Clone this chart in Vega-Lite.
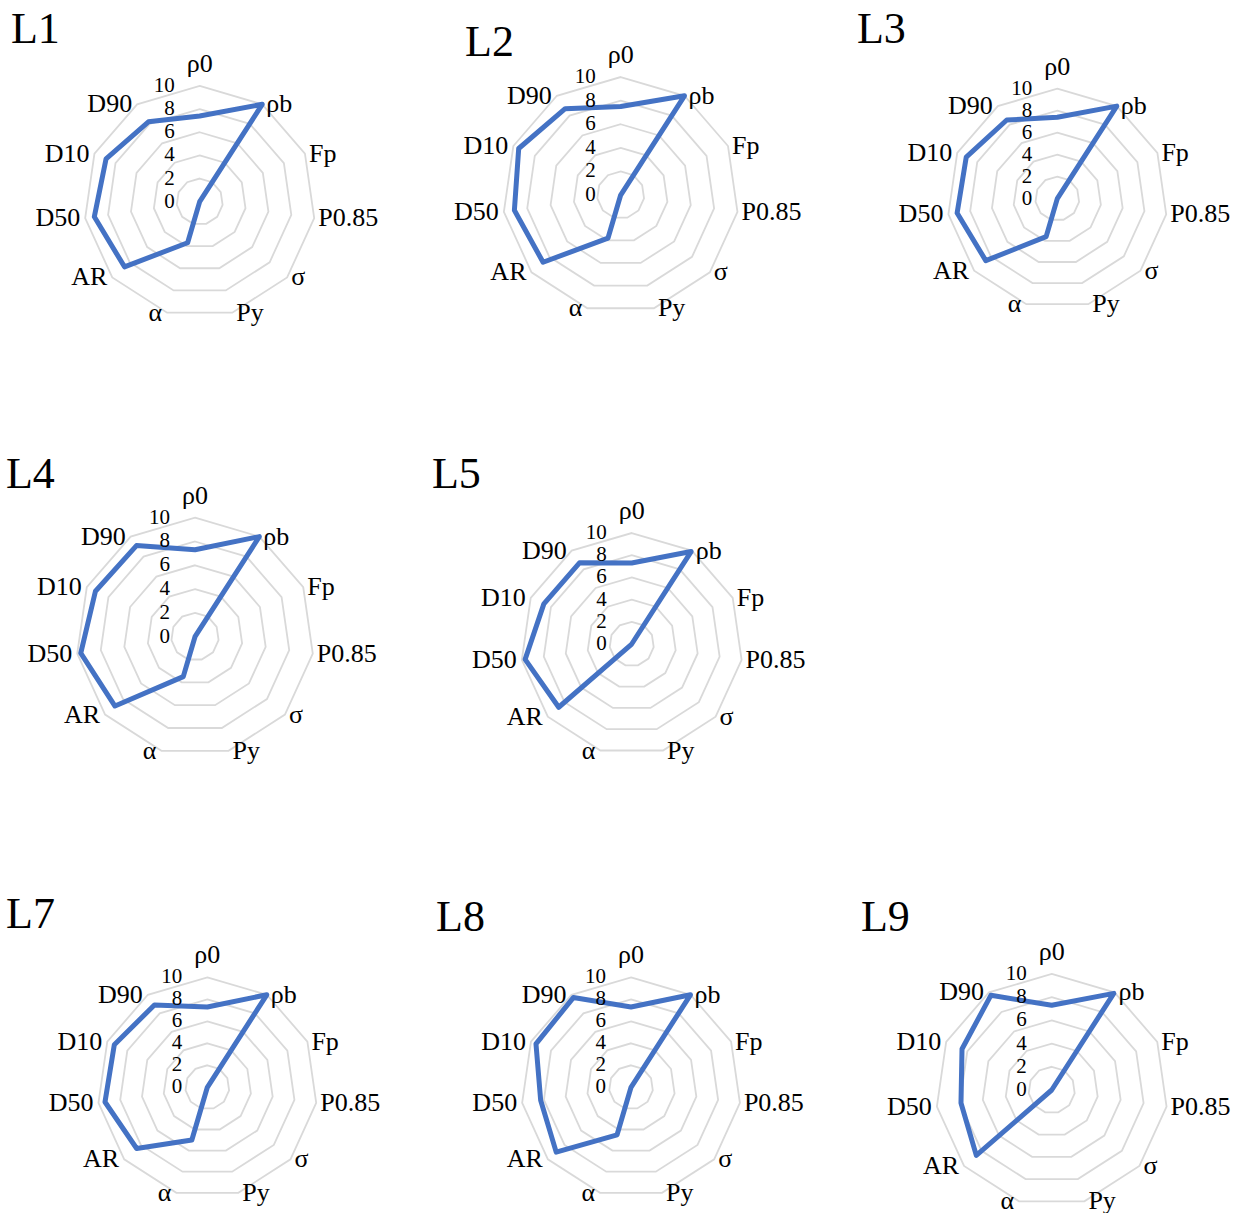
{
  "$schema": "https://vega.github.io/schema/vega-lite/v6.json",
  "padding": 0,
  "config": {
    "view": {"stroke": null},
    "font": "Liberation Serif",
    "text": {"font": "Liberation Serif", "color": "#000000"}
  },
  "datasets": {
    "vals": [
      {"panel": "L1", "axis": "ρ0", "k": 0, "value": 7.4}, {"panel": "L1", "axis": "ρb", "k": 1, "value": 10}, {"panel": "L1", "axis": "Fp", "k": 2, "value": 0}, {"panel": "L1", "axis": "P0.85", "k": 3, "value": 0}, {"panel": "L1", "axis": "σ", "k": 4, "value": 0}, {"panel": "L1", "axis": "Py", "k": 5, "value": 0}, {"panel": "L1", "axis": "α", "k": 6, "value": 3.7}, {"panel": "L1", "axis": "AR", "k": 7, "value": 8.6}, {"panel": "L1", "axis": "D50", "k": 8, "value": 9.2}, {"panel": "L1", "axis": "D10", "k": 9, "value": 8.9}, {"panel": "L1", "axis": "D90", "k": 10, "value": 8.2},
      {"panel": "L2", "axis": "ρ0", "k": 0, "value": 7.5}, {"panel": "L2", "axis": "ρb", "k": 1, "value": 10}, {"panel": "L2", "axis": "Fp", "k": 2, "value": 0}, {"panel": "L2", "axis": "P0.85", "k": 3, "value": 0}, {"panel": "L2", "axis": "σ", "k": 4, "value": 0}, {"panel": "L2", "axis": "Py", "k": 5, "value": 0}, {"panel": "L2", "axis": "α", "k": 6, "value": 3.8}, {"panel": "L2", "axis": "AR", "k": 7, "value": 8.7}, {"panel": "L2", "axis": "D50", "k": 8, "value": 9.1}, {"panel": "L2", "axis": "D10", "k": 9, "value": 9.5}, {"panel": "L2", "axis": "D90", "k": 10, "value": 8.7},
      {"panel": "L3", "axis": "ρ0", "k": 0, "value": 7.4}, {"panel": "L3", "axis": "ρb", "k": 1, "value": 10}, {"panel": "L3", "axis": "Fp", "k": 2, "value": 0}, {"panel": "L3", "axis": "P0.85", "k": 3, "value": 0}, {"panel": "L3", "axis": "σ", "k": 4, "value": 0}, {"panel": "L3", "axis": "Py", "k": 5, "value": 0}, {"panel": "L3", "axis": "α", "k": 6, "value": 3.6}, {"panel": "L3", "axis": "AR", "k": 7, "value": 8.6}, {"panel": "L3", "axis": "D50", "k": 8, "value": 9.2}, {"panel": "L3", "axis": "D10", "k": 9, "value": 9.1}, {"panel": "L3", "axis": "D90", "k": 10, "value": 8.5},
      {"panel": "L4", "axis": "ρ0", "k": 0, "value": 7.3}, {"panel": "L4", "axis": "ρb", "k": 1, "value": 10}, {"panel": "L4", "axis": "Fp", "k": 2, "value": 0}, {"panel": "L4", "axis": "P0.85", "k": 3, "value": 0}, {"panel": "L4", "axis": "σ", "k": 4, "value": 0}, {"panel": "L4", "axis": "Py", "k": 5, "value": 0}, {"panel": "L4", "axis": "α", "k": 6, "value": 3.5}, {"panel": "L4", "axis": "AR", "k": 7, "value": 8.9}, {"panel": "L4", "axis": "D50", "k": 8, "value": 9.7}, {"panel": "L4", "axis": "D10", "k": 9, "value": 9.2}, {"panel": "L4", "axis": "D90", "k": 10, "value": 9.1},
      {"panel": "L5", "axis": "ρ0", "k": 0, "value": 7.3}, {"panel": "L5", "axis": "ρb", "k": 1, "value": 9.9}, {"panel": "L5", "axis": "Fp", "k": 2, "value": 0}, {"panel": "L5", "axis": "P0.85", "k": 3, "value": 0}, {"panel": "L5", "axis": "σ", "k": 4, "value": 0}, {"panel": "L5", "axis": "Py", "k": 5, "value": 0}, {"panel": "L5", "axis": "α", "k": 6, "value": 0}, {"panel": "L5", "axis": "AR", "k": 7, "value": 8.7}, {"panel": "L5", "axis": "D50", "k": 8, "value": 9.7}, {"panel": "L5", "axis": "D10", "k": 9, "value": 8.7}, {"panel": "L5", "axis": "D90", "k": 10, "value": 8.7},
      {"panel": "L7", "axis": "ρ0", "k": 0, "value": 7.3}, {"panel": "L7", "axis": "ρb", "k": 1, "value": 10}, {"panel": "L7", "axis": "Fp", "k": 2, "value": 0}, {"panel": "L7", "axis": "P0.85", "k": 3, "value": 0}, {"panel": "L7", "axis": "σ", "k": 4, "value": 0}, {"panel": "L7", "axis": "Py", "k": 5, "value": 0}, {"panel": "L7", "axis": "α", "k": 6, "value": 5.0}, {"panel": "L7", "axis": "AR", "k": 7, "value": 8.5}, {"panel": "L7", "axis": "D50", "k": 8, "value": 9.4}, {"panel": "L7", "axis": "D10", "k": 9, "value": 9.3}, {"panel": "L7", "axis": "D90", "k": 10, "value": 8.9},
      {"panel": "L8", "axis": "ρ0", "k": 0, "value": 7.3}, {"panel": "L8", "axis": "ρb", "k": 1, "value": 10}, {"panel": "L8", "axis": "Fp", "k": 2, "value": 0}, {"panel": "L8", "axis": "P0.85", "k": 3, "value": 0}, {"panel": "L8", "axis": "σ", "k": 4, "value": 0}, {"panel": "L8", "axis": "Py", "k": 5, "value": 0}, {"panel": "L8", "axis": "α", "k": 6, "value": 4.5}, {"panel": "L8", "axis": "AR", "k": 7, "value": 9.0}, {"panel": "L8", "axis": "D50", "k": 8, "value": 8.3}, {"panel": "L8", "axis": "D10", "k": 9, "value": 9.5}, {"panel": "L8", "axis": "D90", "k": 10, "value": 9.7},
      {"panel": "L9", "axis": "ρ0", "k": 0, "value": 7.3}, {"panel": "L9", "axis": "ρb", "k": 1, "value": 9.9}, {"panel": "L9", "axis": "Fp", "k": 2, "value": 0}, {"panel": "L9", "axis": "P0.85", "k": 3, "value": 0}, {"panel": "L9", "axis": "σ", "k": 4, "value": 0}, {"panel": "L9", "axis": "Py", "k": 5, "value": 0}, {"panel": "L9", "axis": "α", "k": 6, "value": 0}, {"panel": "L9", "axis": "AR", "k": 7, "value": 8.6}, {"panel": "L9", "axis": "D50", "k": 8, "value": 7.9}, {"panel": "L9", "axis": "D10", "k": 9, "value": 8.5}, {"panel": "L9", "axis": "D90", "k": 10, "value": 9.7}
    ],
    "axes": [
      {"axis": "ρ0", "k": 0}, {"axis": "ρb", "k": 1}, {"axis": "Fp", "k": 2}, {"axis": "P0.85", "k": 3}, {"axis": "σ", "k": 4}, {"axis": "Py", "k": 5}, {"axis": "α", "k": 6}, {"axis": "AR", "k": 7}, {"axis": "D50", "k": 8}, {"axis": "D10", "k": 9}, {"axis": "D90", "k": 10}
    ],
    "rings": [
      {"level": 2, "k": [0, 1, 2, 3, 4, 5, 6, 7, 8, 9, 10]},
      {"level": 4, "k": [0, 1, 2, 3, 4, 5, 6, 7, 8, 9, 10]},
      {"level": 6, "k": [0, 1, 2, 3, 4, 5, 6, 7, 8, 9, 10]},
      {"level": 8, "k": [0, 1, 2, 3, 4, 5, 6, 7, 8, 9, 10]},
      {"level": 10, "k": [0, 1, 2, 3, 4, 5, 6, 7, 8, 9, 10]}
    ],
    "ticks": [{"level": 0}, {"level": 2}, {"level": 4}, {"level": 6}, {"level": 8}, {"level": 10}]
  },
  "columns": 3,
  "spacing": 0,
  "bounds": "flush",
  "concat": [
    {
      "width": 415, "height": 440,
      "layer": [
        {"data": {"name": "rings"}, "transform": [{"flatten": ["k"]}, {"calculate": "datum.level*sin(datum.k*2*PI/11)", "as": "x"}, {"calculate": "datum.level*cos(datum.k*2*PI/11)", "as": "y"}], "mark": {"type": "line", "interpolate": "linear-closed", "color": "#d9d9d9", "strokeWidth": 1.8}, "encoding": {"x": {"field": "x", "type": "quantitative", "axis": null, "scale": {"domain": [-17.26, 18.61], "nice": false, "zero": false}}, "y": {"field": "y", "type": "quantitative", "axis": null, "scale": {"domain": [-20.6, 17.43], "nice": false, "zero": false}}, "detail": {"field": "level", "type": "nominal"}, "order": {"field": "k", "type": "quantitative"}}},
        {"data": {"name": "vals"}, "transform": [{"filter": "datum.panel === 'L1'"}, {"calculate": "datum.value*sin(datum.k*2*PI/11)", "as": "x"}, {"calculate": "datum.value*cos(datum.k*2*PI/11)", "as": "y"}], "mark": {"type": "line", "interpolate": "linear-closed", "color": "#4472C4", "strokeWidth": 5, "strokeJoin": "round"}, "encoding": {"x": {"field": "x", "type": "quantitative", "axis": null}, "y": {"field": "y", "type": "quantitative", "axis": null}, "order": {"field": "k", "type": "quantitative"}}},
        {"data": {"name": "ticks"}, "mark": {"type": "text", "align": "right", "baseline": "middle", "dx": -25, "fontSize": 21}, "encoding": {"x": {"datum": 0, "type": "quantitative", "axis": null}, "y": {"field": "level", "type": "quantitative", "axis": null}, "text": {"field": "level", "type": "quantitative"}}},
        {"data": {"name": "axes"}, "transform": [{"filter": "datum.k === 0"}, {"calculate": "10*sin(datum.k*2*PI/11)", "as": "x"}, {"calculate": "10*cos(datum.k*2*PI/11)", "as": "y"}], "mark": {"type": "text", "align": "center", "baseline": "alphabetic", "dy": -14, "fontSize": 26}, "encoding": {"x": {"field": "x", "type": "quantitative", "axis": null}, "y": {"field": "y", "type": "quantitative", "axis": null}, "text": {"field": "axis"}}},
        {"data": {"name": "axes"}, "transform": [{"filter": "datum.k >= 1 && datum.k <= 5"}, {"calculate": "10*sin(datum.k*2*PI/11)", "as": "x"}, {"calculate": "10*cos(datum.k*2*PI/11)", "as": "y"}], "mark": {"type": "text", "align": "left", "baseline": "middle", "dx": 4, "fontSize": 26}, "encoding": {"x": {"field": "x", "type": "quantitative", "axis": null}, "y": {"field": "y", "type": "quantitative", "axis": null}, "text": {"field": "axis"}}},
        {"data": {"name": "axes"}, "transform": [{"filter": "datum.k >= 6"}, {"calculate": "10*sin(datum.k*2*PI/11)", "as": "x"}, {"calculate": "10*cos(datum.k*2*PI/11)", "as": "y"}], "mark": {"type": "text", "align": "right", "baseline": "middle", "dx": -5, "fontSize": 26}, "encoding": {"x": {"field": "x", "type": "quantitative", "axis": null}, "y": {"field": "y", "type": "quantitative", "axis": null}, "text": {"field": "axis"}}},
        {"data": {"name": "vals"}, "transform": [{"filter": "datum.panel === 'L1' && datum.k === 0"}], "mark": {"type": "text", "align": "left", "baseline": "alphabetic", "fontSize": 44}, "encoding": {"x": {"datum": -16.31, "type": "quantitative", "axis": null}, "y": {"datum": 13.71, "type": "quantitative", "axis": null}, "text": {"field": "panel"}}}
      ]
    },
    {
      "width": 415, "height": 440,
      "layer": [
        {"data": {"name": "rings"}, "transform": [{"flatten": ["k"]}, {"calculate": "datum.level*sin(datum.k*2*PI/11)", "as": "x"}, {"calculate": "datum.level*cos(datum.k*2*PI/11)", "as": "y"}], "mark": {"type": "line", "interpolate": "linear-closed", "color": "#d9d9d9", "strokeWidth": 1.8}, "encoding": {"x": {"field": "x", "type": "quantitative", "axis": null, "scale": {"domain": [-17.43, 17.74], "nice": false, "zero": false}}, "y": {"field": "y", "type": "quantitative", "axis": null, "scale": {"domain": [-20.76, 16.53], "nice": false, "zero": false}}, "detail": {"field": "level", "type": "nominal"}, "order": {"field": "k", "type": "quantitative"}}},
        {"data": {"name": "vals"}, "transform": [{"filter": "datum.panel === 'L2'"}, {"calculate": "datum.value*sin(datum.k*2*PI/11)", "as": "x"}, {"calculate": "datum.value*cos(datum.k*2*PI/11)", "as": "y"}], "mark": {"type": "line", "interpolate": "linear-closed", "color": "#4472C4", "strokeWidth": 5, "strokeJoin": "round"}, "encoding": {"x": {"field": "x", "type": "quantitative", "axis": null}, "y": {"field": "y", "type": "quantitative", "axis": null}, "order": {"field": "k", "type": "quantitative"}}},
        {"data": {"name": "ticks"}, "mark": {"type": "text", "align": "right", "baseline": "middle", "dx": -25, "fontSize": 21}, "encoding": {"x": {"datum": 0, "type": "quantitative", "axis": null}, "y": {"field": "level", "type": "quantitative", "axis": null}, "text": {"field": "level", "type": "quantitative"}}},
        {"data": {"name": "axes"}, "transform": [{"filter": "datum.k === 0"}, {"calculate": "10*sin(datum.k*2*PI/11)", "as": "x"}, {"calculate": "10*cos(datum.k*2*PI/11)", "as": "y"}], "mark": {"type": "text", "align": "center", "baseline": "alphabetic", "dy": -14, "fontSize": 26}, "encoding": {"x": {"field": "x", "type": "quantitative", "axis": null}, "y": {"field": "y", "type": "quantitative", "axis": null}, "text": {"field": "axis"}}},
        {"data": {"name": "axes"}, "transform": [{"filter": "datum.k >= 1 && datum.k <= 5"}, {"calculate": "10*sin(datum.k*2*PI/11)", "as": "x"}, {"calculate": "10*cos(datum.k*2*PI/11)", "as": "y"}], "mark": {"type": "text", "align": "left", "baseline": "middle", "dx": 4, "fontSize": 26}, "encoding": {"x": {"field": "x", "type": "quantitative", "axis": null}, "y": {"field": "y", "type": "quantitative", "axis": null}, "text": {"field": "axis"}}},
        {"data": {"name": "axes"}, "transform": [{"filter": "datum.k >= 6"}, {"calculate": "10*sin(datum.k*2*PI/11)", "as": "x"}, {"calculate": "10*cos(datum.k*2*PI/11)", "as": "y"}], "mark": {"type": "text", "align": "right", "baseline": "middle", "dx": -5, "fontSize": 26}, "encoding": {"x": {"field": "x", "type": "quantitative", "axis": null}, "y": {"field": "y", "type": "quantitative", "axis": null}, "text": {"field": "axis"}}},
        {"data": {"name": "vals"}, "transform": [{"filter": "datum.panel === 'L2' && datum.k === 0"}], "mark": {"type": "text", "align": "left", "baseline": "alphabetic", "fontSize": 44}, "encoding": {"x": {"datum": -13.19, "type": "quantitative", "axis": null}, "y": {"datum": 11.78, "type": "quantitative", "axis": null}, "text": {"field": "panel"}}}
      ]
    },
    {
      "width": 415, "height": 440,
      "layer": [
        {"data": {"name": "rings"}, "transform": [{"flatten": ["k"]}, {"calculate": "datum.level*sin(datum.k*2*PI/11)", "as": "x"}, {"calculate": "datum.level*cos(datum.k*2*PI/11)", "as": "y"}], "mark": {"type": "line", "interpolate": "linear-closed", "color": "#d9d9d9", "strokeWidth": 1.8}, "encoding": {"x": {"field": "x", "type": "quantitative", "axis": null, "scale": {"domain": [-20.66, 17.06], "nice": false, "zero": false}}, "y": {"field": "y", "type": "quantitative", "axis": null, "scale": {"domain": [-21.94, 18.06], "nice": false, "zero": false}}, "detail": {"field": "level", "type": "nominal"}, "order": {"field": "k", "type": "quantitative"}}},
        {"data": {"name": "vals"}, "transform": [{"filter": "datum.panel === 'L3'"}, {"calculate": "datum.value*sin(datum.k*2*PI/11)", "as": "x"}, {"calculate": "datum.value*cos(datum.k*2*PI/11)", "as": "y"}], "mark": {"type": "line", "interpolate": "linear-closed", "color": "#4472C4", "strokeWidth": 5, "strokeJoin": "round"}, "encoding": {"x": {"field": "x", "type": "quantitative", "axis": null}, "y": {"field": "y", "type": "quantitative", "axis": null}, "order": {"field": "k", "type": "quantitative"}}},
        {"data": {"name": "ticks"}, "mark": {"type": "text", "align": "right", "baseline": "middle", "dx": -25, "fontSize": 21}, "encoding": {"x": {"datum": 0, "type": "quantitative", "axis": null}, "y": {"field": "level", "type": "quantitative", "axis": null}, "text": {"field": "level", "type": "quantitative"}}},
        {"data": {"name": "axes"}, "transform": [{"filter": "datum.k === 0"}, {"calculate": "10*sin(datum.k*2*PI/11)", "as": "x"}, {"calculate": "10*cos(datum.k*2*PI/11)", "as": "y"}], "mark": {"type": "text", "align": "center", "baseline": "alphabetic", "dy": -14, "fontSize": 26}, "encoding": {"x": {"field": "x", "type": "quantitative", "axis": null}, "y": {"field": "y", "type": "quantitative", "axis": null}, "text": {"field": "axis"}}},
        {"data": {"name": "axes"}, "transform": [{"filter": "datum.k >= 1 && datum.k <= 5"}, {"calculate": "10*sin(datum.k*2*PI/11)", "as": "x"}, {"calculate": "10*cos(datum.k*2*PI/11)", "as": "y"}], "mark": {"type": "text", "align": "left", "baseline": "middle", "dx": 4, "fontSize": 26}, "encoding": {"x": {"field": "x", "type": "quantitative", "axis": null}, "y": {"field": "y", "type": "quantitative", "axis": null}, "text": {"field": "axis"}}},
        {"data": {"name": "axes"}, "transform": [{"filter": "datum.k >= 6"}, {"calculate": "10*sin(datum.k*2*PI/11)", "as": "x"}, {"calculate": "10*cos(datum.k*2*PI/11)", "as": "y"}], "mark": {"type": "text", "align": "right", "baseline": "middle", "dx": -5, "fontSize": 26}, "encoding": {"x": {"field": "x", "type": "quantitative", "axis": null}, "y": {"field": "y", "type": "quantitative", "axis": null}, "text": {"field": "axis"}}},
        {"data": {"name": "vals"}, "transform": [{"filter": "datum.panel === 'L3' && datum.k === 0"}], "mark": {"type": "text", "align": "left", "baseline": "alphabetic", "fontSize": 44}, "encoding": {"x": {"datum": -18.21, "type": "quantitative", "axis": null}, "y": {"datum": 14.15, "type": "quantitative", "axis": null}, "text": {"field": "panel"}}}
      ]
    },
    {
      "width": 415, "height": 440,
      "layer": [
        {"data": {"name": "rings"}, "transform": [{"flatten": ["k"]}, {"calculate": "datum.level*sin(datum.k*2*PI/11)", "as": "x"}, {"calculate": "datum.level*cos(datum.k*2*PI/11)", "as": "y"}], "mark": {"type": "line", "interpolate": "linear-closed", "color": "#d9d9d9", "strokeWidth": 1.8}, "encoding": {"x": {"field": "x", "type": "quantitative", "axis": null, "scale": {"domain": [-16.39, 18.49], "nice": false, "zero": false}}, "y": {"field": "y", "type": "quantitative", "axis": null, "scale": {"domain": [-20.45, 16.53], "nice": false, "zero": false}}, "detail": {"field": "level", "type": "nominal"}, "order": {"field": "k", "type": "quantitative"}}},
        {"data": {"name": "vals"}, "transform": [{"filter": "datum.panel === 'L4'"}, {"calculate": "datum.value*sin(datum.k*2*PI/11)", "as": "x"}, {"calculate": "datum.value*cos(datum.k*2*PI/11)", "as": "y"}], "mark": {"type": "line", "interpolate": "linear-closed", "color": "#4472C4", "strokeWidth": 5, "strokeJoin": "round"}, "encoding": {"x": {"field": "x", "type": "quantitative", "axis": null}, "y": {"field": "y", "type": "quantitative", "axis": null}, "order": {"field": "k", "type": "quantitative"}}},
        {"data": {"name": "ticks"}, "mark": {"type": "text", "align": "right", "baseline": "middle", "dx": -25, "fontSize": 21}, "encoding": {"x": {"datum": 0, "type": "quantitative", "axis": null}, "y": {"field": "level", "type": "quantitative", "axis": null}, "text": {"field": "level", "type": "quantitative"}}},
        {"data": {"name": "axes"}, "transform": [{"filter": "datum.k === 0"}, {"calculate": "10*sin(datum.k*2*PI/11)", "as": "x"}, {"calculate": "10*cos(datum.k*2*PI/11)", "as": "y"}], "mark": {"type": "text", "align": "center", "baseline": "alphabetic", "dy": -14, "fontSize": 26}, "encoding": {"x": {"field": "x", "type": "quantitative", "axis": null}, "y": {"field": "y", "type": "quantitative", "axis": null}, "text": {"field": "axis"}}},
        {"data": {"name": "axes"}, "transform": [{"filter": "datum.k >= 1 && datum.k <= 5"}, {"calculate": "10*sin(datum.k*2*PI/11)", "as": "x"}, {"calculate": "10*cos(datum.k*2*PI/11)", "as": "y"}], "mark": {"type": "text", "align": "left", "baseline": "middle", "dx": 4, "fontSize": 26}, "encoding": {"x": {"field": "x", "type": "quantitative", "axis": null}, "y": {"field": "y", "type": "quantitative", "axis": null}, "text": {"field": "axis"}}},
        {"data": {"name": "axes"}, "transform": [{"filter": "datum.k >= 6"}, {"calculate": "10*sin(datum.k*2*PI/11)", "as": "x"}, {"calculate": "10*cos(datum.k*2*PI/11)", "as": "y"}], "mark": {"type": "text", "align": "right", "baseline": "middle", "dx": -5, "fontSize": 26}, "encoding": {"x": {"field": "x", "type": "quantitative", "axis": null}, "y": {"field": "y", "type": "quantitative", "axis": null}, "text": {"field": "axis"}}},
        {"data": {"name": "vals"}, "transform": [{"filter": "datum.panel === 'L4' && datum.k === 0"}], "mark": {"type": "text", "align": "left", "baseline": "alphabetic", "fontSize": 44}, "encoding": {"x": {"datum": -15.89, "type": "quantitative", "axis": null}, "y": {"datum": 12.5, "type": "quantitative", "axis": null}, "text": {"field": "panel"}}}
      ]
    },
    {
      "width": 415, "height": 440,
      "layer": [
        {"data": {"name": "rings"}, "transform": [{"flatten": ["k"]}, {"calculate": "datum.level*sin(datum.k*2*PI/11)", "as": "x"}, {"calculate": "datum.level*cos(datum.k*2*PI/11)", "as": "y"}], "mark": {"type": "line", "interpolate": "linear-closed", "color": "#d9d9d9", "strokeWidth": 1.8}, "encoding": {"x": {"field": "x", "type": "quantitative", "axis": null, "scale": {"domain": [-19.52, 17.86], "nice": false, "zero": false}}, "y": {"field": "y", "type": "quantitative", "axis": null, "scale": {"domain": [-21.26, 18.38], "nice": false, "zero": false}}, "detail": {"field": "level", "type": "nominal"}, "order": {"field": "k", "type": "quantitative"}}},
        {"data": {"name": "vals"}, "transform": [{"filter": "datum.panel === 'L5'"}, {"calculate": "datum.value*sin(datum.k*2*PI/11)", "as": "x"}, {"calculate": "datum.value*cos(datum.k*2*PI/11)", "as": "y"}], "mark": {"type": "line", "interpolate": "linear-closed", "color": "#4472C4", "strokeWidth": 5, "strokeJoin": "round"}, "encoding": {"x": {"field": "x", "type": "quantitative", "axis": null}, "y": {"field": "y", "type": "quantitative", "axis": null}, "order": {"field": "k", "type": "quantitative"}}},
        {"data": {"name": "ticks"}, "mark": {"type": "text", "align": "right", "baseline": "middle", "dx": -25, "fontSize": 21}, "encoding": {"x": {"datum": 0, "type": "quantitative", "axis": null}, "y": {"field": "level", "type": "quantitative", "axis": null}, "text": {"field": "level", "type": "quantitative"}}},
        {"data": {"name": "axes"}, "transform": [{"filter": "datum.k === 0"}, {"calculate": "10*sin(datum.k*2*PI/11)", "as": "x"}, {"calculate": "10*cos(datum.k*2*PI/11)", "as": "y"}], "mark": {"type": "text", "align": "center", "baseline": "alphabetic", "dy": -14, "fontSize": 26}, "encoding": {"x": {"field": "x", "type": "quantitative", "axis": null}, "y": {"field": "y", "type": "quantitative", "axis": null}, "text": {"field": "axis"}}},
        {"data": {"name": "axes"}, "transform": [{"filter": "datum.k >= 1 && datum.k <= 5"}, {"calculate": "10*sin(datum.k*2*PI/11)", "as": "x"}, {"calculate": "10*cos(datum.k*2*PI/11)", "as": "y"}], "mark": {"type": "text", "align": "left", "baseline": "middle", "dx": 4, "fontSize": 26}, "encoding": {"x": {"field": "x", "type": "quantitative", "axis": null}, "y": {"field": "y", "type": "quantitative", "axis": null}, "text": {"field": "axis"}}},
        {"data": {"name": "axes"}, "transform": [{"filter": "datum.k >= 6"}, {"calculate": "10*sin(datum.k*2*PI/11)", "as": "x"}, {"calculate": "10*cos(datum.k*2*PI/11)", "as": "y"}], "mark": {"type": "text", "align": "right", "baseline": "middle", "dx": -5, "fontSize": 26}, "encoding": {"x": {"field": "x", "type": "quantitative", "axis": null}, "y": {"field": "y", "type": "quantitative", "axis": null}, "text": {"field": "axis"}}},
        {"data": {"name": "vals"}, "transform": [{"filter": "datum.panel === 'L5' && datum.k === 0"}], "mark": {"type": "text", "align": "left", "baseline": "alphabetic", "fontSize": 44}, "encoding": {"x": {"datum": -17.99, "type": "quantitative", "axis": null}, "y": {"datum": 14.06, "type": "quantitative", "axis": null}, "text": {"field": "panel"}}}
      ]
    },
    {
      "width": 415, "height": 440,
      "data": {"values": []},
      "mark": "point"
    },
    {
      "width": 415, "height": 333,
      "layer": [
        {"data": {"name": "rings"}, "transform": [{"flatten": ["k"]}, {"calculate": "datum.level*sin(datum.k*2*PI/11)", "as": "x"}, {"calculate": "datum.level*cos(datum.k*2*PI/11)", "as": "y"}], "mark": {"type": "line", "interpolate": "linear-closed", "color": "#d9d9d9", "strokeWidth": 1.8}, "encoding": {"x": {"field": "x", "type": "quantitative", "axis": null, "scale": {"domain": [-18.85, 18.88], "nice": false, "zero": false}}, "y": {"field": "y", "type": "quantitative", "axis": null, "scale": {"domain": [-11.43, 18.85], "nice": false, "zero": false}}, "detail": {"field": "level", "type": "nominal"}, "order": {"field": "k", "type": "quantitative"}}},
        {"data": {"name": "vals"}, "transform": [{"filter": "datum.panel === 'L7'"}, {"calculate": "datum.value*sin(datum.k*2*PI/11)", "as": "x"}, {"calculate": "datum.value*cos(datum.k*2*PI/11)", "as": "y"}], "mark": {"type": "line", "interpolate": "linear-closed", "color": "#4472C4", "strokeWidth": 5, "strokeJoin": "round"}, "encoding": {"x": {"field": "x", "type": "quantitative", "axis": null}, "y": {"field": "y", "type": "quantitative", "axis": null}, "order": {"field": "k", "type": "quantitative"}}},
        {"data": {"name": "ticks"}, "mark": {"type": "text", "align": "right", "baseline": "middle", "dx": -25, "fontSize": 21}, "encoding": {"x": {"datum": 0, "type": "quantitative", "axis": null}, "y": {"field": "level", "type": "quantitative", "axis": null}, "text": {"field": "level", "type": "quantitative"}}},
        {"data": {"name": "axes"}, "transform": [{"filter": "datum.k === 0"}, {"calculate": "10*sin(datum.k*2*PI/11)", "as": "x"}, {"calculate": "10*cos(datum.k*2*PI/11)", "as": "y"}], "mark": {"type": "text", "align": "center", "baseline": "alphabetic", "dy": -14, "fontSize": 26}, "encoding": {"x": {"field": "x", "type": "quantitative", "axis": null}, "y": {"field": "y", "type": "quantitative", "axis": null}, "text": {"field": "axis"}}},
        {"data": {"name": "axes"}, "transform": [{"filter": "datum.k >= 1 && datum.k <= 5"}, {"calculate": "10*sin(datum.k*2*PI/11)", "as": "x"}, {"calculate": "10*cos(datum.k*2*PI/11)", "as": "y"}], "mark": {"type": "text", "align": "left", "baseline": "middle", "dx": 4, "fontSize": 26}, "encoding": {"x": {"field": "x", "type": "quantitative", "axis": null}, "y": {"field": "y", "type": "quantitative", "axis": null}, "text": {"field": "axis"}}},
        {"data": {"name": "axes"}, "transform": [{"filter": "datum.k >= 6"}, {"calculate": "10*sin(datum.k*2*PI/11)", "as": "x"}, {"calculate": "10*cos(datum.k*2*PI/11)", "as": "y"}], "mark": {"type": "text", "align": "right", "baseline": "middle", "dx": -5, "fontSize": 26}, "encoding": {"x": {"field": "x", "type": "quantitative", "axis": null}, "y": {"field": "y", "type": "quantitative", "axis": null}, "text": {"field": "axis"}}},
        {"data": {"name": "vals"}, "transform": [{"filter": "datum.panel === 'L7' && datum.k === 0"}], "mark": {"type": "text", "align": "left", "baseline": "alphabetic", "fontSize": 44}, "encoding": {"x": {"datum": -18.3, "type": "quantitative", "axis": null}, "y": {"datum": 14.49, "type": "quantitative", "axis": null}, "text": {"field": "panel"}}}
      ]
    },
    {
      "width": 415, "height": 333,
      "layer": [
        {"data": {"name": "rings"}, "transform": [{"flatten": ["k"]}, {"calculate": "datum.level*sin(datum.k*2*PI/11)", "as": "x"}, {"calculate": "datum.level*cos(datum.k*2*PI/11)", "as": "y"}], "mark": {"type": "line", "interpolate": "linear-closed", "color": "#d9d9d9", "strokeWidth": 1.8}, "encoding": {"x": {"field": "x", "type": "quantitative", "axis": null, "scale": {"domain": [-19.64, 18.09], "nice": false, "zero": false}}, "y": {"field": "y", "type": "quantitative", "axis": null, "scale": {"domain": [-11.43, 18.85], "nice": false, "zero": false}}, "detail": {"field": "level", "type": "nominal"}, "order": {"field": "k", "type": "quantitative"}}},
        {"data": {"name": "vals"}, "transform": [{"filter": "datum.panel === 'L8'"}, {"calculate": "datum.value*sin(datum.k*2*PI/11)", "as": "x"}, {"calculate": "datum.value*cos(datum.k*2*PI/11)", "as": "y"}], "mark": {"type": "line", "interpolate": "linear-closed", "color": "#4472C4", "strokeWidth": 5, "strokeJoin": "round"}, "encoding": {"x": {"field": "x", "type": "quantitative", "axis": null}, "y": {"field": "y", "type": "quantitative", "axis": null}, "order": {"field": "k", "type": "quantitative"}}},
        {"data": {"name": "ticks"}, "mark": {"type": "text", "align": "right", "baseline": "middle", "dx": -25, "fontSize": 21}, "encoding": {"x": {"datum": 0, "type": "quantitative", "axis": null}, "y": {"field": "level", "type": "quantitative", "axis": null}, "text": {"field": "level", "type": "quantitative"}}},
        {"data": {"name": "axes"}, "transform": [{"filter": "datum.k === 0"}, {"calculate": "10*sin(datum.k*2*PI/11)", "as": "x"}, {"calculate": "10*cos(datum.k*2*PI/11)", "as": "y"}], "mark": {"type": "text", "align": "center", "baseline": "alphabetic", "dy": -14, "fontSize": 26}, "encoding": {"x": {"field": "x", "type": "quantitative", "axis": null}, "y": {"field": "y", "type": "quantitative", "axis": null}, "text": {"field": "axis"}}},
        {"data": {"name": "axes"}, "transform": [{"filter": "datum.k >= 1 && datum.k <= 5"}, {"calculate": "10*sin(datum.k*2*PI/11)", "as": "x"}, {"calculate": "10*cos(datum.k*2*PI/11)", "as": "y"}], "mark": {"type": "text", "align": "left", "baseline": "middle", "dx": 4, "fontSize": 26}, "encoding": {"x": {"field": "x", "type": "quantitative", "axis": null}, "y": {"field": "y", "type": "quantitative", "axis": null}, "text": {"field": "axis"}}},
        {"data": {"name": "axes"}, "transform": [{"filter": "datum.k >= 6"}, {"calculate": "10*sin(datum.k*2*PI/11)", "as": "x"}, {"calculate": "10*cos(datum.k*2*PI/11)", "as": "y"}], "mark": {"type": "text", "align": "right", "baseline": "middle", "dx": -5, "fontSize": 26}, "encoding": {"x": {"field": "x", "type": "quantitative", "axis": null}, "y": {"field": "y", "type": "quantitative", "axis": null}, "text": {"field": "axis"}}},
        {"data": {"name": "vals"}, "transform": [{"filter": "datum.panel === 'L8' && datum.k === 0"}], "mark": {"type": "text", "align": "left", "baseline": "alphabetic", "fontSize": 44}, "encoding": {"x": {"datum": -17.73, "type": "quantitative", "axis": null}, "y": {"datum": 14.21, "type": "quantitative", "axis": null}, "text": {"field": "panel"}}}
      ]
    },
    {
      "width": 415, "height": 333,
      "layer": [
        {"data": {"name": "rings"}, "transform": [{"flatten": ["k"]}, {"calculate": "datum.level*sin(datum.k*2*PI/11)", "as": "x"}, {"calculate": "datum.level*cos(datum.k*2*PI/11)", "as": "y"}], "mark": {"type": "line", "interpolate": "linear-closed", "color": "#d9d9d9", "strokeWidth": 1.8}, "encoding": {"x": {"field": "x", "type": "quantitative", "axis": null, "scale": {"domain": [-19.11, 16.66], "nice": false, "zero": false}}, "y": {"field": "y", "type": "quantitative", "axis": null, "scale": {"domain": [-10.6, 18.1], "nice": false, "zero": false}}, "detail": {"field": "level", "type": "nominal"}, "order": {"field": "k", "type": "quantitative"}}},
        {"data": {"name": "vals"}, "transform": [{"filter": "datum.panel === 'L9'"}, {"calculate": "datum.value*sin(datum.k*2*PI/11)", "as": "x"}, {"calculate": "datum.value*cos(datum.k*2*PI/11)", "as": "y"}], "mark": {"type": "line", "interpolate": "linear-closed", "color": "#4472C4", "strokeWidth": 5, "strokeJoin": "round"}, "encoding": {"x": {"field": "x", "type": "quantitative", "axis": null}, "y": {"field": "y", "type": "quantitative", "axis": null}, "order": {"field": "k", "type": "quantitative"}}},
        {"data": {"name": "ticks"}, "mark": {"type": "text", "align": "right", "baseline": "middle", "dx": -25, "fontSize": 21}, "encoding": {"x": {"datum": 0, "type": "quantitative", "axis": null}, "y": {"field": "level", "type": "quantitative", "axis": null}, "text": {"field": "level", "type": "quantitative"}}},
        {"data": {"name": "axes"}, "transform": [{"filter": "datum.k === 0"}, {"calculate": "10*sin(datum.k*2*PI/11)", "as": "x"}, {"calculate": "10*cos(datum.k*2*PI/11)", "as": "y"}], "mark": {"type": "text", "align": "center", "baseline": "alphabetic", "dy": -14, "fontSize": 26}, "encoding": {"x": {"field": "x", "type": "quantitative", "axis": null}, "y": {"field": "y", "type": "quantitative", "axis": null}, "text": {"field": "axis"}}},
        {"data": {"name": "axes"}, "transform": [{"filter": "datum.k >= 1 && datum.k <= 5"}, {"calculate": "10*sin(datum.k*2*PI/11)", "as": "x"}, {"calculate": "10*cos(datum.k*2*PI/11)", "as": "y"}], "mark": {"type": "text", "align": "left", "baseline": "middle", "dx": 4, "fontSize": 26}, "encoding": {"x": {"field": "x", "type": "quantitative", "axis": null}, "y": {"field": "y", "type": "quantitative", "axis": null}, "text": {"field": "axis"}}},
        {"data": {"name": "axes"}, "transform": [{"filter": "datum.k >= 6"}, {"calculate": "10*sin(datum.k*2*PI/11)", "as": "x"}, {"calculate": "10*cos(datum.k*2*PI/11)", "as": "y"}], "mark": {"type": "text", "align": "right", "baseline": "middle", "dx": -5, "fontSize": 26}, "encoding": {"x": {"field": "x", "type": "quantitative", "axis": null}, "y": {"field": "y", "type": "quantitative", "axis": null}, "text": {"field": "axis"}}},
        {"data": {"name": "vals"}, "transform": [{"filter": "datum.panel === 'L9' && datum.k === 0"}], "mark": {"type": "text", "align": "left", "baseline": "alphabetic", "fontSize": 44}, "encoding": {"x": {"datum": -16.44, "type": "quantitative", "axis": null}, "y": {"datum": 13.7, "type": "quantitative", "axis": null}, "text": {"field": "panel"}}}
      ]
    }
  ]
}
